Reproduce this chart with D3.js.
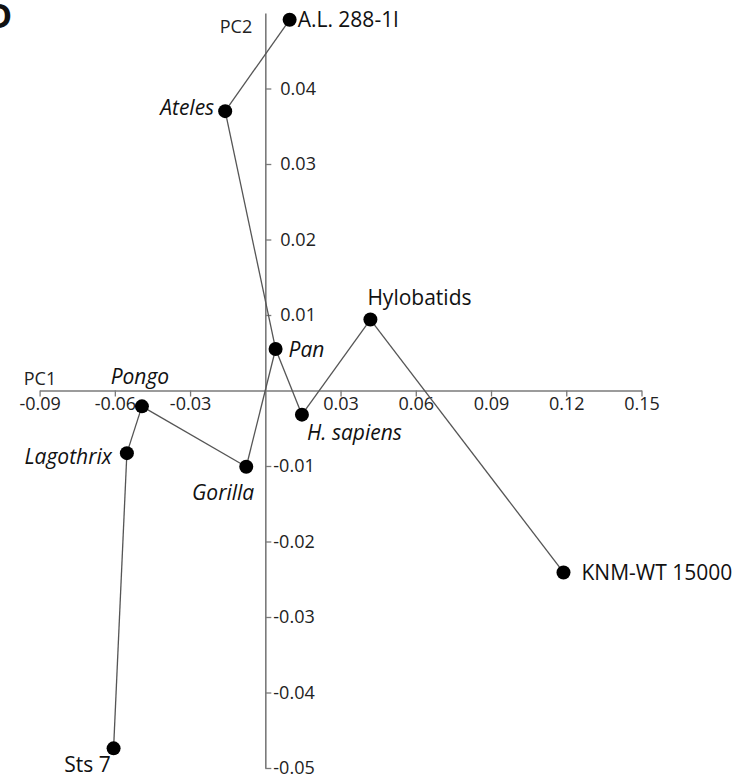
<!DOCTYPE html>
<html>
<head>
<meta charset="utf-8">
<script src="https://cdn.jsdelivr.net/npm/d3@7"></script>
<style>
  body { margin: 0; background: #fff; }
  svg { display: block; font-family: "Open Sans", sans-serif; }
</style>
</head>
<body>
<svg id="pca" width="749" height="778"></svg>
<script>
// specimens and their scores on PC1 / PC2
const names = ["A.L. 288-1l", "Ateles", "Pan", "H. sapiens", "Hylobatids", "KNM-WT 15000",
               "Gorilla", "Pongo", "Lagothrix", "Sts 7"];
const pc1 = [0.0097, -0.0160, 0.0041, 0.0146, 0.0419, 0.1189, -0.0076, -0.0492, -0.0552, -0.0605];
const pc2 = [0.0491, 0.0370, 0.0055, -0.0032, 0.0094, -0.0241, -0.0101, -0.0021, -0.0083, -0.0474];
const italic = ["Ateles", "Pan", "H. sapiens", "Gorilla", "Pongo", "Lagothrix"];

// links between specimens (tree)
const links = [
    ["A.L. 288-1l", "Ateles"], ["Ateles", "Pan"], ["Pan", "H. sapiens"],
    ["H. sapiens", "Hylobatids"], ["Hylobatids", "KNM-WT 15000"],
    ["Pan", "Gorilla"], ["Gorilla", "Pongo"], ["Pongo", "Lagothrix"], ["Lagothrix", "Sts 7"]
];

const xTicks = [-0.09, -0.06, -0.03, 0.03, 0.06, 0.09, 0.12, 0.15];
const yTicks = [0.04, 0.03, 0.02, 0.01, -0.01, -0.02, -0.03, -0.04, -0.05];

const points = names.map((n, i) => ({ name: n, x: pc1[i], y: pc2[i] }));
const byName = new Map(points.map(d => [d.name, d]));

// label placement (offset from dot, anchor)
const labelPos = {
    "A.L. 288-1l": [8, 0, "start"],
    "Ateles": [-11, -4, "end"],
    "Pan": [13, 0, "start"],
    "H. sapiens": [5, 18, "start"],
    "Hylobatids": [-3, -22, "start"],
    "KNM-WT 15000": [18, 0, "start"],
    "Gorilla": [8, 26, "end"],
    "Pongo": [-2, -30, "middle"],
    "Lagothrix": [-15, 3, "end"],
    "Sts 7": [-26, 16, "middle"]
};

const fmt = d => d.toFixed(2);   // plain hyphen for negatives

const svg = d3.select("#pca");

const x = d3.scaleLinear().domain([-0.09, 0.15]).range([39.6, 641.5]);
const y = d3.scaleLinear().domain([-0.05, 0.05]).range([768, 13]);

const axisColor = "#7a7a7a";

// X axis
const xAxis = svg.append("g")
    .attr("transform", `translate(0,${y(0)})`)
    .call(d3.axisBottom(x).tickValues(xTicks).tickFormat(fmt)
        .tickSize(6).tickSizeOuter(0).tickPadding(1));
xAxis.select(".domain").attr("stroke", axisColor).attr("stroke-width", 1.6);
xAxis.selectAll(".tick line").attr("stroke", axisColor).attr("stroke-width", 1.3);
xAxis.selectAll(".tick text")
    .attr("fill", "#222")
    .style("font-size", "18px")
    .style("font-family", "Open Sans, sans-serif");

// Y axis
const yAxis = svg.append("g")
    .attr("transform", `translate(${x(0)},0)`)
    .call(d3.axisRight(y).tickValues(yTicks).tickFormat(fmt)
        .tickSize(6).tickSizeOuter(0).tickPadding(3));
yAxis.select(".domain").attr("stroke", axisColor).attr("stroke-width", 1.6);
yAxis.selectAll(".tick line").attr("stroke", axisColor).attr("stroke-width", 1.3);
yAxis.selectAll(".tick text")
    .attr("x", d => d > 0 ? 15 : 8)
    .attr("fill", "#222")
    .style("font-size", "18px")
    .style("font-family", "Open Sans, sans-serif");

// axis names
svg.append("text").attr("x", 236).attr("y", 33).attr("text-anchor", "middle")
    .style("font-size", "18px").attr("fill", "#222").text("PC2");
svg.append("text").attr("x", 40).attr("y", 385).attr("text-anchor", "middle")
    .style("font-size", "18px").attr("fill", "#222").text("PC1");

// panel letter, cut by the edge
svg.append("text").attr("x", -13).attr("y", 28)
    .style("font-size", "34px").style("font-weight", "bold").attr("fill", "#111").text("D");

// links
svg.append("g").selectAll("line")
    .data(links)
    .join("line")
    .attr("x1", d => x(byName.get(d[0]).x))
    .attr("y1", d => y(byName.get(d[0]).y))
    .attr("x2", d => x(byName.get(d[1]).x))
    .attr("y2", d => y(byName.get(d[1]).y))
    .attr("stroke", "#555")
    .attr("stroke-width", 1.3);

// dots
svg.append("g").selectAll("circle")
    .data(points)
    .join("circle")
    .attr("cx", d => x(d.x))
    .attr("cy", d => y(d.y))
    .attr("r", 7)
    .attr("fill", "#000");

// labels
svg.append("g").selectAll("text")
    .data(points)
    .join("text")
    .attr("x", d => x(d.x) + labelPos[d.name][0])
    .attr("y", d => y(d.y) + labelPos[d.name][1])
    .attr("dy", "0.36em")
    .attr("text-anchor", d => labelPos[d.name][2])
    .style("font-style", d => italic.includes(d.name) ? "italic" : "normal")
    .style("font-size", "21px")
    .attr("fill", "#111")
    .text(d => d.name);
</script>
</body>
</html>
